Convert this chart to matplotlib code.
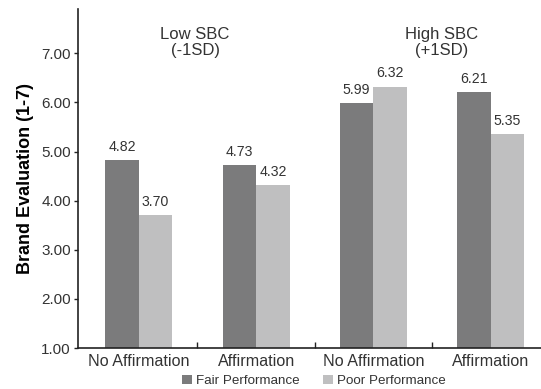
import matplotlib.pyplot as plt
import numpy as np
from matplotlib.ticker import FixedLocator

plt.rcParams.update({'font.family': 'Liberation Sans',
                     'text.color': '#333333',
                     'axes.edgecolor': '#222222',
                     'xtick.color': '#222222',
                     'ytick.color': '#222222',
                     'xtick.labelcolor': '#333333',
                     'ytick.labelcolor': '#333333'})

categories = ['No Affirmation', 'Affirmation', 'No Affirmation', 'Affirmation']
fair = [4.82, 4.73, 5.99, 6.21]
poor = [3.70, 4.32, 6.32, 5.35]
series_names = ['Fair Performance', 'Poor Performance']
group_titles = ['Low SBC\n(-1SD)', 'High SBC\n(+1SD)']
yticks = [1, 2, 3, 4, 5, 6, 7]

fig = plt.figure(figsize=(5.41, 3.89), dpi=100)
ax = fig.add_axes([0.144, 0.105, 0.856, 0.872])

x = np.arange(len(categories))
w = 0.285
b1 = ax.bar(x - w/2, np.array(fair) - 1, w, bottom=1, color='#7b7b7c', label=series_names[0])
b2 = ax.bar(x + w/2, np.array(poor) - 1, w, bottom=1, color='#bfbfc0', label=series_names[1])

# value labels above each bar
for bars, vals in ((b1, fair), (b2, poor)):
    for r, v in zip(bars, vals):
        ax.annotate(f'{v:.2f}', (r.get_x() + r.get_width()/2, v), xytext=(0, 4.5),
                    textcoords='offset points', ha='center', va='bottom', fontsize=10.2)

ax.text(0.48, 7.22, group_titles[0], ha='center', va='center', fontsize=12, linespacing=1.05)
ax.text(2.58, 7.22, group_titles[1], ha='center', va='center', fontsize=12, linespacing=1.05)

ax.set_xlim(-0.52, 3.43)
ax.set_ylim(1, 7.9)
ax.set_yticks(yticks)
ax.set_yticklabels([f'{t:.2f}' for t in yticks], fontsize=11)
ax.set_xticks(x)
ax.set_xticklabels(categories, fontsize=11.6)
ax.tick_params(axis='x', length=0, pad=4)
ax.xaxis.set_minor_locator(FixedLocator([0.5, 1.5, 2.5]))
ax.tick_params(axis='x', which='minor', direction='in', length=4, width=1)
ax.tick_params(axis='y', length=3, width=1, pad=2)
ax.set_ylabel('Brand Evaluation (1-7)', fontsize=13, fontweight='bold', labelpad=5)
for s in ['top', 'right']:
    ax.spines[s].set_visible(False)
ax.spines['left'].set_linewidth(1.2)
ax.spines['bottom'].set_linewidth(1.2)

fig.legend(handles=[b1, b2], loc='center', bbox_to_anchor=(0.58, 0.02), ncol=2, frameon=False,
           fontsize=9.6, handlelength=0.7, handleheight=0.7, handletextpad=0.3, columnspacing=1.8,
           borderpad=0)

fig.savefig('out.png', dpi=100)
